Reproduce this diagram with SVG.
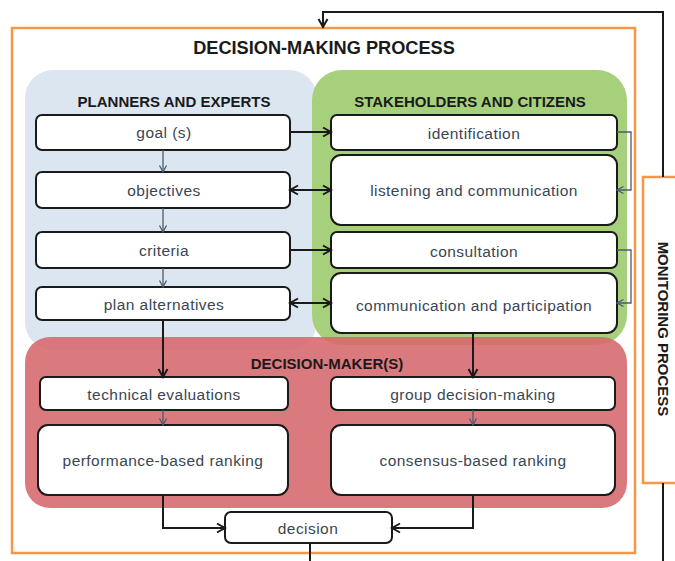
<svg xmlns="http://www.w3.org/2000/svg" width="675" height="561" viewBox="0 0 675 561">
<defs>
<style>
.box{fill:#fff;stroke:#1a1a1a;stroke-width:2}
.lbl{font-family:"Liberation Sans",Arial,sans-serif;font-size:15.5px;fill:#3a4654;text-anchor:middle;dominant-baseline:central;letter-spacing:0.45px}
.hd{font-family:"Liberation Sans",Arial,sans-serif;font-weight:bold;fill:#1a1a1a;text-anchor:middle;dominant-baseline:central}
.cb{fill:none;stroke:#1a1a1a;stroke-width:2}
.cg{fill:none;stroke:#4a5c6e;stroke-width:1.3}
</style>
<marker id="ab" markerUnits="userSpaceOnUse" markerWidth="12" markerHeight="12" viewBox="0 0 12 12" refX="10" refY="6" orient="auto-start-reverse">
<path d="M2,1.5 L10,6 L2,10.5" fill="none" stroke="#1a1a1a" stroke-width="2"/>
</marker>
<marker id="ag" markerUnits="userSpaceOnUse" markerWidth="10" markerHeight="10" viewBox="0 0 10 10" refX="8.5" refY="5" orient="auto">
<path d="M2,1.5 L8.5,5 L2,8.5" fill="none" stroke="#4a5c6e" stroke-width="1.3"/>
</marker>
</defs>
<rect width="675" height="561" fill="#fff"/>
<g id="decision-making-process">
<rect x="12" y="28" width="623" height="525" fill="none" stroke="#f79646" stroke-width="2.5"/>
<text class="hd" x="324" y="48" font-size="18.2">DECISION-MAKING PROCESS</text>
</g>
<g id="monitoring-process">
<rect x="643" y="177" width="50" height="306" fill="#fff" stroke="#f79646" stroke-width="2.5"/>
<text class="hd" font-size="15" transform="translate(663,329) rotate(90)">MONITORING PROCESS</text>
</g>
<g id="planners-and-experts">
<rect x="25" y="70" width="292" height="280" rx="28" fill="#dbe6f1"/>
<text class="hd" x="174" y="101" font-size="15">PLANNERS AND EXPERTS</text>
</g>
<g id="stakeholders-and-citizens">
<rect x="312" y="70" width="315" height="275" rx="30" fill="#a7d07d"/>
<text class="hd" x="470" y="101" font-size="15">STAKEHOLDERS AND CITIZENS</text>
</g>
<g id="decision-makers">
<rect x="25" y="337" width="602" height="171" rx="25" fill="#d6686c" fill-opacity="0.88"/>
<text class="hd" x="327" y="363" font-size="15">DECISION-MAKER(S)</text>
</g>
<g id="goal"><rect class="box" x="36" y="115" width="254" height="35" rx="6"/><text class="lbl" x="164" y="132">goal (s)</text></g>
<g id="objectives"><rect class="box" x="36" y="172" width="254" height="36" rx="6"/><text class="lbl" x="164" y="190">objectives</text></g>
<g id="criteria"><rect class="box" x="36" y="232" width="254" height="36" rx="6"/><text class="lbl" x="164" y="250">criteria</text></g>
<g id="plan-alternatives"><rect class="box" x="36" y="287" width="254" height="33" rx="6"/><text class="lbl" x="164" y="304">plan alternatives</text></g>
<g id="identification"><rect class="box" x="331" y="115" width="286" height="35" rx="6"/><text class="lbl" x="474" y="133">identification</text></g>
<g id="listening"><rect class="box" x="331" y="155" width="286" height="70" rx="10"/><text class="lbl" x="474" y="190">listening and communication</text></g>
<g id="consultation"><rect class="box" x="331" y="232" width="286" height="36" rx="6"/><text class="lbl" x="474" y="251">consultation</text></g>
<g id="communication-participation"><rect class="box" x="331" y="273" width="286" height="60" rx="10"/><text class="lbl" x="474" y="305">communication and participation</text></g>
<g id="technical-evaluations"><rect class="box" x="40" y="377" width="248" height="33" rx="6"/><text class="lbl" x="164" y="394">technical evaluations</text></g>
<g id="performance-ranking"><rect class="box" x="38" y="425" width="250" height="70" rx="10"/><text class="lbl" x="163" y="460">performance-based ranking</text></g>
<g id="group-decision"><rect class="box" x="331" y="377" width="284" height="33" rx="6"/><text class="lbl" x="473" y="394">group decision-making</text></g>
<g id="consensus-ranking"><rect class="box" x="331" y="425" width="284" height="70" rx="10"/><text class="lbl" x="473" y="460">consensus-based ranking</text></g>
<g id="decision"><rect class="box" x="225" y="512" width="167" height="31" rx="6"/><text class="lbl" x="308" y="528">decision</text></g>
<g id="connectors">
<path class="cb" d="M290,132 H331" marker-end="url(#ab)"/>
<path class="cb" d="M290,190 H331" marker-start="url(#ab)" marker-end="url(#ab)"/>
<path class="cb" d="M290,250 H331" marker-end="url(#ab)"/>
<path class="cb" d="M290,303 H331" marker-start="url(#ab)" marker-end="url(#ab)"/>
<path class="cb" d="M163,320 V377" marker-end="url(#ab)"/>
<path class="cb" d="M473,333 V377" marker-end="url(#ab)"/>
<path class="cb" d="M163,495 V528 H225" marker-end="url(#ab)"/>
<path class="cb" d="M473,495 V528 H392" marker-end="url(#ab)"/>
<path class="cb" d="M310,543 V561"/>
<path class="cb" d="M663,177 V12 H323 V27" marker-end="url(#ab)"/>
<path class="cb" d="M663,483 V561"/>
<path class="cg" d="M163,150 V172" marker-end="url(#ag)"/>
<path class="cg" d="M163,208 V232" marker-end="url(#ag)"/>
<path class="cg" d="M163,268 V287" marker-end="url(#ag)"/>
<path class="cg" d="M163,410 V425" marker-end="url(#ag)"/>
<path class="cg" d="M473,410 V425" marker-end="url(#ag)"/>
<path class="cg" d="M617,132 H631 V190 H617" marker-end="url(#ag)"/>
<path class="cg" d="M617,250 H631 V303 H617" marker-end="url(#ag)"/>
</g>
</svg>
